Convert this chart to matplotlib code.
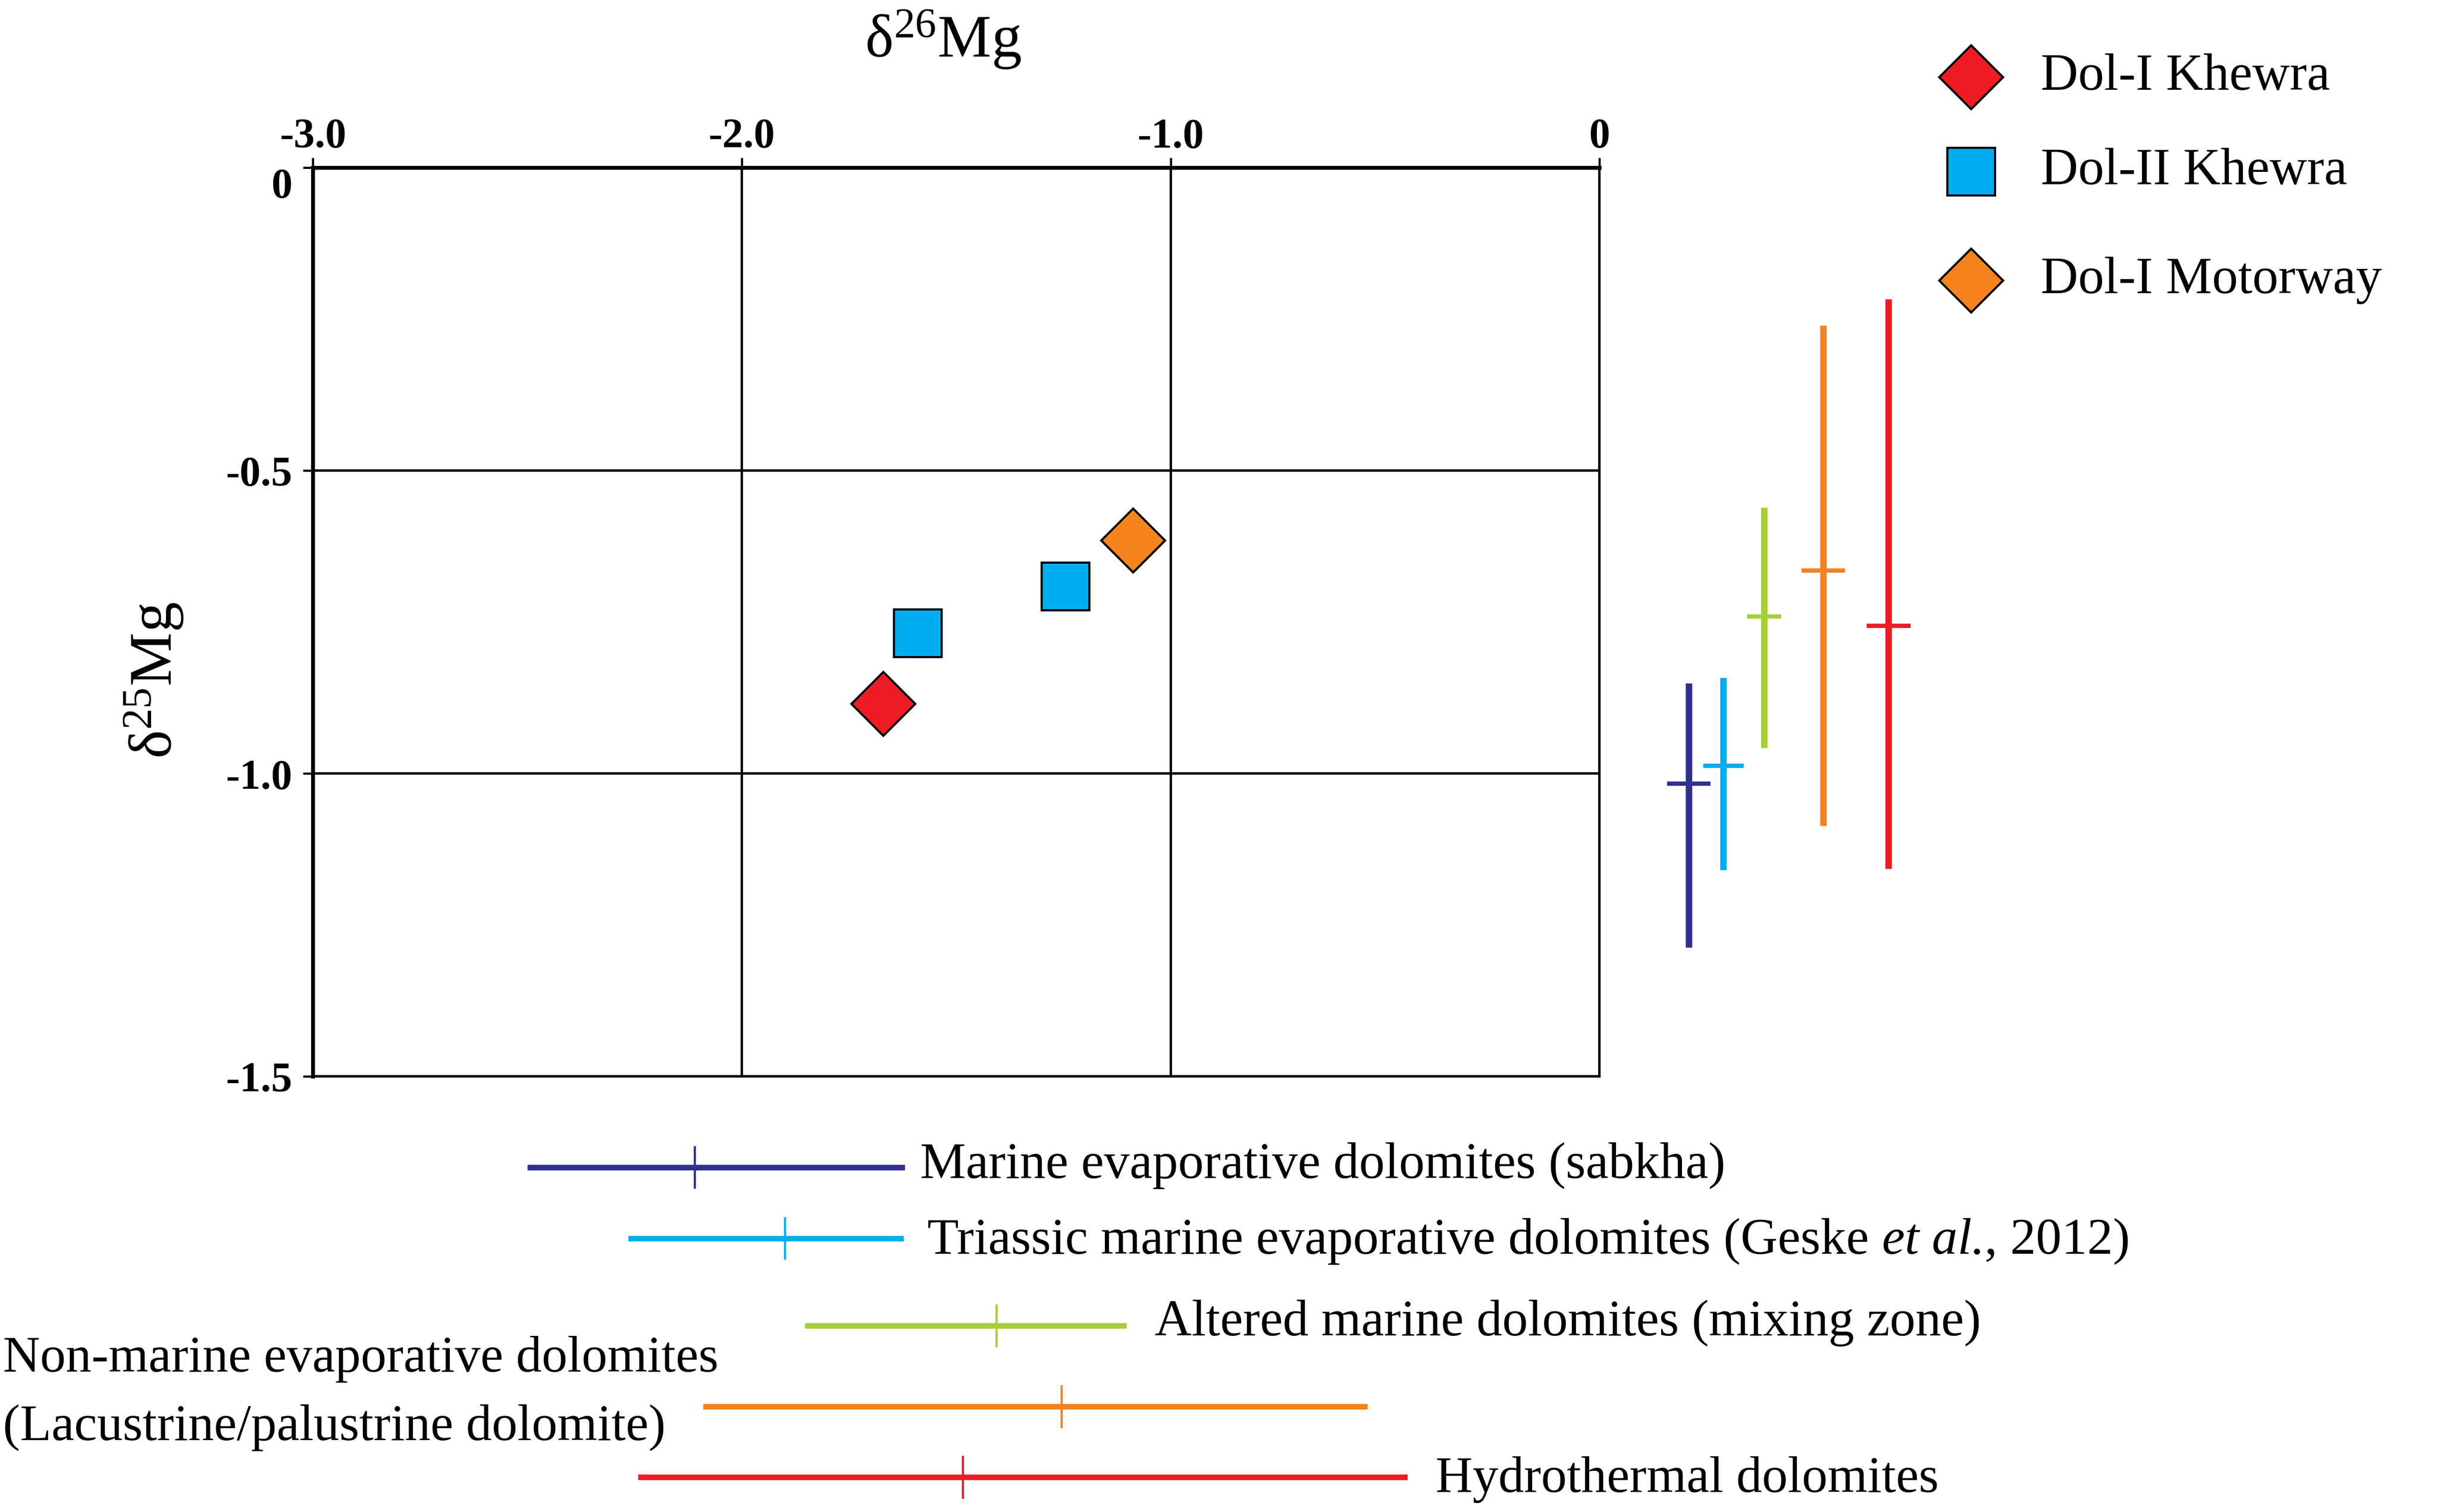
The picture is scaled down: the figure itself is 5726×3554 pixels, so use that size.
import matplotlib
matplotlib.use('Agg')
import matplotlib.pyplot as plt
import matplotlib.transforms as mtransforms

plt.rcParams['font.family'] = ['Liberation Serif', 'DejaVu Serif']
plt.rcParams['mathtext.fontset'] = 'custom'
plt.rcParams['mathtext.rm'] = 'Liberation Serif'
plt.rcParams['mathtext.it'] = 'Liberation Serif:italic'
plt.rcParams['mathtext.bf'] = 'Liberation Serif:bold'

# samples: delta26Mg, delta25Mg
khewra1_d26 = [-1.67]
khewra1_d25 = [-0.885]
khewra2_d26 = [-1.59, -1.246]
khewra2_d25 = [-0.768, -0.691]
motorway_d26 = [-1.088]
motorway_d25 = [-0.615]

sample_labels = ['Dol-I Khewra', 'Dol-II Khewra', 'Dol-I Motorway']
sample_colors = ['#ED1C24', '#00AEEF', '#F5841F']
sample_markers = ['D', 's', 'D']

# literature ranges (low, high, mean)
range_labels = ['Marine evaporative dolomites (sabkha)',
                'Triassic marine evaporative dolomites (Geske ',
                'Altered marine dolomites (mixing zone)',
                'Non-marine evaporative dolomites\n(Lacustrine/palustrine dolomite)',
                'Hydrothermal dolomites']
range_colors = ['#2E3192', '#00AEEF', '#A6CE39', '#F58220', '#ED1C24']
d26_low = [-2.50, -2.265, -1.853, -2.09, -2.242]
d26_high = [-1.62, -1.623, -1.103, -0.541, -0.448]
d26_mean = [-2.11, -1.90, -1.406, -1.255, -1.485]
d25_low = [-1.287, -1.159, -0.958, -1.086, -1.157]
d25_high = [-0.851, -0.842, -0.561, -0.260, -0.217]
d25_mean = [-1.017, -0.987, -0.741, -0.665, -0.756]

xticks = [-3.0, -2.0, -1.0, 0]
xtick_labels = ['-3.0', '-2.0', '-1.0', '0']
yticks = [0, -0.5, -1.0, -1.5]
ytick_labels = ['0', '-0.5', '-1.0', '-1.5']

dpi = 365.2
fig = plt.figure(figsize=(5726.4 / dpi, 3554.4 / dpi), dpi=dpi)
fig.patch.set_facecolor('white')
ax = fig.add_axes([0.1284, 0.2881, 0.5279, 0.6008])

sizes = {'D': 21, 's': 22}
ax.plot(khewra1_d26, khewra1_d25, ls='none', marker='D', ms=sizes['D'], mfc=sample_colors[0],
        mec='black', mew=1.0, zorder=5, clip_on=False)
ax.plot(khewra2_d26, khewra2_d25, ls='none', marker='s', ms=sizes['s'], mfc=sample_colors[1],
        mec='black', mew=1.0, zorder=5, clip_on=False)
ax.plot(motorway_d26, motorway_d25, ls='none', marker='D', ms=sizes['D'], mfc=sample_colors[2],
        mec='black', mew=1.0, zorder=5, clip_on=False)

# legend drawn by hand (uneven spacing in the original)
leg_y = [0.9490, 0.8865, 0.8145]
for i in range(3):
    ax.plot([0.8087], [leg_y[i]], ls='none', marker=sample_markers[i],
            ms=sizes[sample_markers[i]], mfc=sample_colors[i], mec='black', mew=1.0,
            transform=fig.transFigure, clip_on=False)
    fig.text(0.8374, leg_y[i], sample_labels[i], fontsize=24, ha='left', va='center')

# vertical ranges (delta25) to the right of the plot
trans_r = mtransforms.blended_transform_factory(fig.transFigure, ax.transData)
bar_x = [0.6929, 0.7071, 0.7239, 0.7481, 0.7749]
cross_w = [0.0089, 0.0083, 0.0070, 0.0089, 0.0090]
for i in range(5):
    ax.plot([bar_x[i], bar_x[i]], [d25_low[i], d25_high[i]], color=range_colors[i],
            lw=3.0, transform=trans_r, clip_on=False, solid_capstyle='butt')
    ax.plot([bar_x[i] - cross_w[i], bar_x[i] + cross_w[i]], [d25_mean[i], d25_mean[i]],
            color=range_colors[i], lw=2.0, transform=trans_r, clip_on=False,
            solid_capstyle='butt')

# horizontal ranges (delta26) below the plot
trans_b = mtransforms.blended_transform_factory(ax.transData, fig.transFigure)
bar_y = [0.2280, 0.1810, 0.1232, 0.0698, 0.0231]
for i in range(5):
    ax.plot([d26_low[i], d26_high[i]], [bar_y[i], bar_y[i]], color=range_colors[i],
            lw=2.6, transform=trans_b, clip_on=False, solid_capstyle='butt')
    ax.plot([d26_mean[i], d26_mean[i]], [bar_y[i] - 0.0134, bar_y[i] + 0.0134],
            color=range_colors[i], lw=1.0, transform=trans_b, clip_on=False)

label_pos = [(0.3776, 0.2290), (0.3806, 0.1790), (0.4738, 0.1250),
             (0.0012, 0.0785), (0.5890, 0.0215)]
fs = 23.8
texts = []
for i in range(5):
    texts.append(fig.text(label_pos[i][0], label_pos[i][1], range_labels[i], fontsize=fs,
                          ha='left', va='center', linespacing=1.6))
# italic "et al." inside the Triassic label
t_it = ax.annotate('et al.', xy=(1, 0), xycoords=texts[1], fontsize=fs, style='italic',
                   ha='left', va='bottom')
ax.annotate(', 2012)', xy=(1, 0), xycoords=t_it, fontsize=fs, ha='left', va='bottom')

ax.set_xlim(-3, 0)
ax.set_ylim(-1.5, 0)
ax.xaxis.tick_top()
ax.set_xticks(xticks)
ax.set_xticklabels(xtick_labels)
ax.set_yticks(yticks)
ax.set_yticklabels(ytick_labels)
ax.tick_params(direction='out', length=4.5, width=1.0, labelsize=19.5)
ax.tick_params(axis='x', pad=1)
ax.tick_params(axis='y', pad=5)
for lab in ax.get_xticklabels() + ax.get_yticklabels():
    lab.set_fontweight('bold')
ax.get_yticklabels()[0].set_va('top')

ax.grid(True, color='black', lw=1.1)
ax.set_axisbelow(True)
for side in ['left', 'top']:
    ax.spines[side].set_linewidth(1.8)
for side in ['right', 'bottom']:
    ax.spines[side].set_linewidth(1.1)

fig.text(0.387, 0.974, 'δ$^{26}$Mg', fontsize=28, ha='center', va='center')
fig.text(0.063, 0.550, 'δ$^{25}$Mg', fontsize=28, ha='center', va='center', rotation=90)

fig.savefig('out.png', dpi=dpi, facecolor='white')
